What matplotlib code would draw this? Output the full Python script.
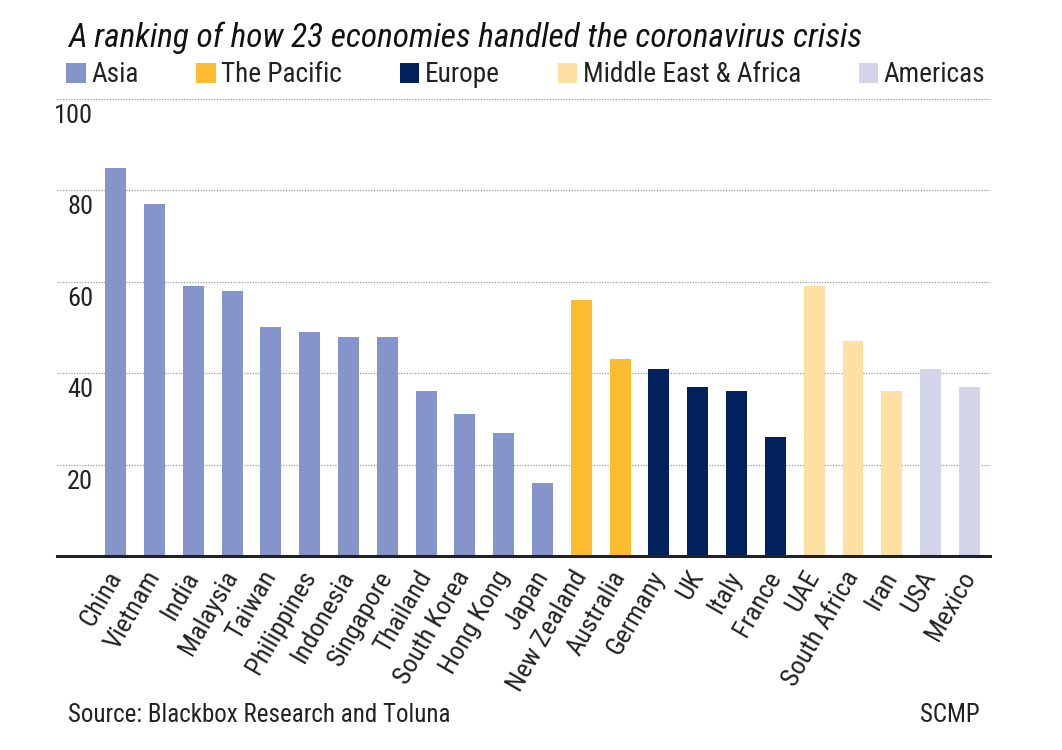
import matplotlib
matplotlib.use("Agg")
import matplotlib.pyplot as plt
from matplotlib import font_manager
from matplotlib.patches import Patch
from matplotlib.transforms import offset_copy

# pick a condensed face if one is installed
names = {(f.name, f.stretch) for f in font_manager.fontManager.ttflist}
font = {"family": "DejaVu Sans"}
for cand in ["Roboto Condensed", "Liberation Sans Narrow", "Open Sans Condensed"]:
    if any(n == cand for n, s in names):
        font = {"family": cand}
        break
else:
    if ("DejaVu Sans", "condensed") in names:
        font = {"family": "DejaVu Sans", "stretch": "condensed"}

# data
countries = ["China", "Vietnam", "India", "Malaysia", "Taiwan", "Philippines",
             "Indonesia", "Singapore", "Thailand", "South Korea", "Hong Kong", "Japan",
             "New Zealand", "Australia", "Germany", "UK", "Italy", "France",
             "UAE", "South Africa", "Iran", "USA", "Mexico"]
scores = [85, 77, 59, 58, 50, 49, 48, 48, 36, 31, 27, 16,
          56, 43, 41, 37, 36, 26, 59, 47, 36, 41, 37]
regions = ["Asia"] * 12 + ["The Pacific"] * 2 + ["Europe"] * 4 + \
          ["Middle East & Africa"] * 3 + ["Americas"] * 2
region_names = ["Asia", "The Pacific", "Europe", "Middle East & Africa", "Americas"]
region_colors = ["#8594ca", "#fdbb2f", "#00215c", "#fee0a3", "#d2d4ea"]
yticks = [20, 40, 60, 80, 100]

cmap = dict(zip(region_names, region_colors))

fig = plt.figure(figsize=(10.62, 7.5), dpi=100)
ax = fig.add_axes([0.0537, 0.2587, 0.8785, 0.6093])

x = range(len(countries))
ax.bar(x, scores, width=0.54, color=[cmap[r] for r in regions], zorder=3)
ax.set_xlim(-1.51, len(countries) - 0.47)
ax.set_ylim(0, 100)

for v in yticks:
    ax.axhline(v, color="#9a9a9a", lw=0.9, ls=(0, (1, 1.2)), zorder=1, clip_on=False)

# y labels sit just under their gridline
trans = offset_copy(ax.get_yaxis_transform(), fig=fig, x=0, y=-5, units="dots")
for v in yticks:
    ax.text(0.0386, v, str(v), transform=trans, ha="right", va="top",
            fontsize=19, color="#222222", **font)

ax.set_yticks([])
ax.set_xticks(list(x))
ax.set_xticklabels(countries, rotation=60, ha="right", va="center",
                   rotation_mode="anchor", fontsize=19, color="#222222", **font)
ax.tick_params(axis="x", length=0, pad=12)

for s in ["top", "right", "left"]:
    ax.spines[s].set_visible(False)
ax.spines["bottom"].set_linewidth(2.2)
ax.spines["bottom"].set_color("#222222")
ax.spines["bottom"].set_zorder(4)

fig.text(68 / 1062, 1 - 38 / 750, "A ranking of how 23 economies handled the coronavirus crisis",
         fontsize=24, style="italic", va="center", ha="left", color="#111111", **font)

handles = [Patch(facecolor=c, edgecolor="none") for c in region_colors]
leg = fig.legend(handles, region_names, loc="center left",
                 bbox_to_anchor=(66 / 1062, 1 - 75 / 750), ncol=5, frameon=False,
                 handlelength=0.72, handleheight=0.72, handletextpad=0.2,
                 columnspacing=2.12, borderpad=0, borderaxespad=0,
                 prop=dict(size=19.6, **font))
for t in leg.get_texts():
    t.set_color("#222222")

fig.text(68 / 1062, 1 - 715 / 750, "Source: Blackbox Research and Toluna",
         fontsize=18, va="center", ha="left", color="#222222", **font)
fig.text(980 / 1062, 1 - 715 / 750, "SCMP",
         fontsize=18, va="center", ha="right", color="#222222", **font)

fig.savefig("out.png", dpi=100, facecolor="white")
